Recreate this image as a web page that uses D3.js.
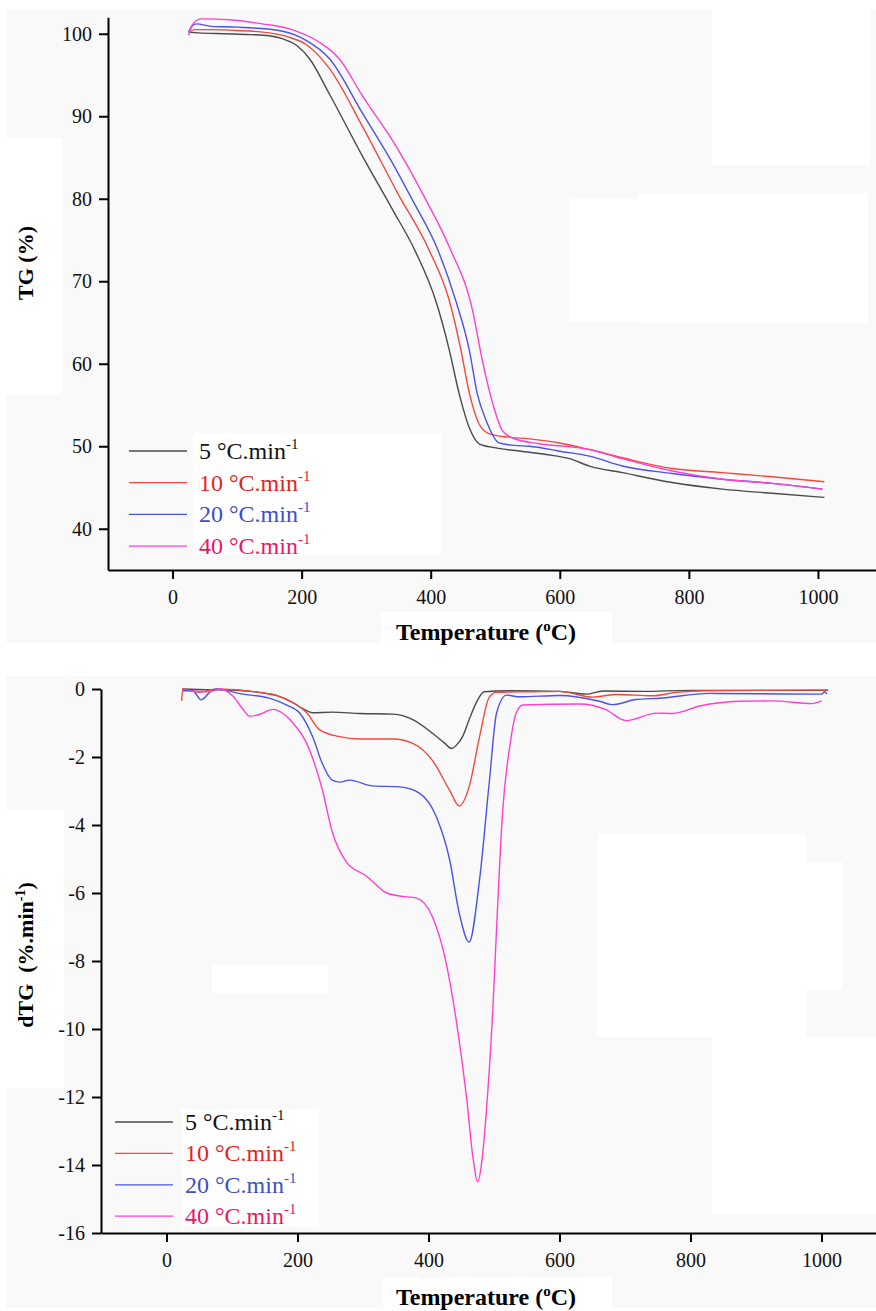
<!DOCTYPE html>
<html>
<head>
<meta charset="utf-8">
<script src="https://cdn.jsdelivr.net/npm/d3@7"></script>
<style>
  body { margin: 0; background: #fff; }
  text { font-family: "Liberation Serif", "Times New Roman", serif; }
</style>
</head>
<body>
<script>
// heating rates and their colours
var rates = ["5", "10", "20", "40"];
var lineColors = ["#4a4a4a", "#f5473c", "#4a52ea", "#ff3fd0"];
var textColors = ["#111111", "#e5231d", "#3d4fc6", "#ee1662"];

// TG curves: [temperature, mass %]
var tg5 = [[25,100.2],[40,100.1],[80,100],[120,99.9],[150,99.75],[170,99.4],[192,98.6],[212,97],[243,92.7],[294,85.2],[340,78.8],[377,73.5],[408,67.6],[429,61.6],[444,56.4],[460,52.2],[475,50.3],[501,49.8],[540,49.4],[579,49.0],[615,48.5],[646,47.6],[697,46.8],[774,45.6],[852,44.8],[929,44.3],[1010,43.8]];
var tg10 = [[25,100.2],[35,100.5],[60,100.5],[100,100.4],[150,100.1],[180,99.6],[207,98.7],[243,95.8],[294,88.8],[350,80.5],[398,73.7],[429,67.6],[447,61.6],[460,56.4],[475,52.7],[491,51.5],[520,51.1],[553,50.9],[600,50.4],[635,49.8],[697,48.6],[774,47.3],[852,46.8],[929,46.3],[1010,45.7]];
var tg20 = [[25,100.2],[30,100.9],[37,101.2],[60,100.9],[100,100.8],[165,100.4],[207,99.2],[243,97],[294,90.4],[346,83.6],[372,79.8],[410,74.0],[439,67.6],[460,61.6],[472,56.4],[486,53.1],[506,50.4],[530,50.1],[553,50.0],[600,49.4],[646,48.8],[697,47.6],[774,46.7],[852,46.0],[929,45.5],[1007,44.8]];
var tg40 = [[25,99.8],[30,101.0],[44,101.8],[88,101.7],[139,101.2],[181,100.6],[227,99],[258,97],[294,92.5],[346,86.4],[393,79.8],[428,74.3],[465,66.4],[480,60.4],[496,55.2],[511,51.9],[527,51.0],[568,50.3],[620,49.9],[646,49.6],[697,48.5],[774,47.0],[852,46.0],[929,45.5],[1007,44.8]];

// dTG curves: [temperature, %/min]
var dtg5 = [[24,0],[60,-0.02],[100,-0.03],[142,-0.1],[170,-0.2],[193,-0.4],[210,-0.6],[223,-0.7],[253,-0.68],[295,-0.72],[346,-0.74],[376,-0.9],[406,-1.3],[425,-1.6],[435,-1.75],[445,-1.6],[452,-1.4],[463,-0.85],[473,-0.4],[485,-0.08],[524,-0.05],[600,-0.07],[641,-0.15],[666,-0.06],[727,-0.07],[800,-0.04],[900,-0.04],[1010,-0.04]];
var dtg10 = [[23,-0.35],[25,0],[50,-0.1],[76,0],[142,-0.1],[193,-0.4],[214,-0.7],[234,-1.2],[264,-1.4],[295,-1.47],[346,-1.47],[376,-1.6],[406,-2.1],[432,-2.97],[447,-3.44],[462,-2.88],[478,-1.4],[493,-0.23],[504,-0.1],[560,-0.08],[600,-0.07],[651,-0.24],[687,-0.16],[742,-0.2],[778,-0.1],[824,-0.05],[900,-0.04],[1010,-0.03]];
var dtg20 = [[25,-0.05],[40,-0.05],[53,-0.32],[66,-0.1],[76,0],[116,-0.15],[157,-0.27],[183,-0.47],[203,-0.7],[223,-1.4],[238,-2.2],[253,-2.68],[265,-2.74],[279,-2.68],[315,-2.85],[356,-2.88],[386,-3.06],[412,-3.76],[432,-5.0],[447,-6.6],[462,-7.44],[478,-5.6],[493,-2.7],[504,-0.7],[519,-0.18],[539,-0.23],[600,-0.19],[661,-0.36],[681,-0.46],[717,-0.31],[753,-0.27],[829,-0.13],[900,-0.14],[1000,-0.15],[1005,-0.08],[1008,-0.15]];
var dtg40 = [[35,-0.05],[66,-0.08],[81,0],[101,-0.2],[115,-0.55],[127,-0.8],[142,-0.75],[162,-0.6],[180,-0.75],[193,-1.0],[214,-1.6],[238,-2.97],[253,-4.2],[275,-5.1],[305,-5.5],[336,-6.0],[356,-6.09],[382,-6.15],[406,-6.7],[427,-8.06],[442,-9.7],[458,-12.0],[468,-13.8],[475,-14.5],[482,-13.8],[488,-12.5],[498,-9.5],[505,-6.6],[513,-3.65],[524,-1.7],[534,-0.7],[544,-0.47],[631,-0.44],[670,-0.6],[702,-0.93],[748,-0.71],[773,-0.72],[814,-0.5],[875,-0.36],[925,-0.35],[985,-0.43],[1000,-0.35]];

// tick values
var xMajor = [0, 200, 400, 600, 800, 1000];
var xMinor = [-100, 100, 300, 500, 700, 900, 1100];
var tgMajor = [40, 50, 60, 70, 80, 90, 100];
var tgMinor = [45, 55, 65, 75, 85, 95];
var dtgMajor = [-16, -14, -12, -10, -8, -6, -4, -2, 0];
var dtgMinor = [-15, -13, -11, -9, -7, -5, -3, -1];

var svg = d3.select("body").append("svg")
    .attr("width", 876)
    .attr("height", 1311);

// light grey panel backgrounds plus the white blanks from the scan
svg.append("rect").attr("x", 6).attr("y", 10).attr("width", 870).attr("height", 633).attr("fill", "#f9f9f9");
svg.append("rect").attr("x", 6).attr("y", 676).attr("width", 870).attr("height", 632).attr("fill", "#f9f9f9");
var patches = [
  [712, 10, 158, 155], [570, 199, 67, 123], [637, 193, 231, 130], [0, 138, 62, 257],
  [193, 433, 248, 122], [381, 612, 231, 31],
  [0, 810, 64, 278], [212, 965, 116, 28], [597, 833, 209, 204], [806, 862, 37, 128],
  [712, 1037, 164, 178], [181, 1109, 138, 118], [383, 1277, 229, 31]
];
svg.selectAll(".patch").data(patches).enter().append("rect")
    .attr("class", "patch")
    .attr("x", function(d) { return d[0]; })
    .attr("y", function(d) { return d[1]; })
    .attr("width", function(d) { return d[2]; })
    .attr("height", function(d) { return d[3]; })
    .attr("fill", "#ffffff");

// plain hyphen minus, no thousands separator
function plain(d) { return String(d); }

function drawPanel(opt) {
  var x = d3.scaleLinear().domain([-100, 1100]).range(opt.xRange);
  var y = d3.scaleLinear().domain(opt.yDomain).range(opt.yRange);
  var g = svg.append("g");

  // curves
  var line = d3.line()
      .x(function(d) { return x(d[0]); })
      .y(function(d) { return y(d[1]); })
      .curve(d3.curveMonotoneX);
  opt.series.forEach(function(s, i) {
    g.append("path")
        .attr("d", line(s))
        .attr("fill", "none")
        .attr("stroke", lineColors[i])
        .attr("stroke-width", 1.4);
  });

  // axes
  var ax = g.append("g").attr("transform", "translate(0," + opt.yRange[0] + ")");
  ax.call(d3.axisBottom(x).tickValues(xMinor).tickSize(5).tickSizeOuter(0).tickFormat(""));
  ax.call(d3.axisBottom(x).tickValues(xMajor).tickSize(9).tickSizeOuter(0).tickPadding(11).tickFormat(plain));
  var ay = g.append("g").attr("transform", "translate(" + opt.xRange[0] + ",0)");
  ay.call(d3.axisLeft(y).tickValues(opt.yMinor).tickSize(5).tickSizeOuter(0).tickFormat(""));
  ay.call(d3.axisLeft(y).tickValues(opt.yMajor).tickSize(9).tickSizeOuter(0).tickPadding(7).tickFormat(plain));

  g.selectAll(".domain").attr("stroke", "#000").attr("stroke-width", 2);
  g.selectAll(".tick line").attr("stroke", "#000").attr("stroke-width", 2);
  g.selectAll(".tick text")
      .style("font-family", "'Liberation Serif', serif")
      .style("font-size", "20px")
      .attr("fill", "#111");

  // x title
  var xt = g.append("text")
      .attr("x", 486).attr("y", opt.xTitleY)
      .attr("text-anchor", "middle")
      .attr("font-size", 24).attr("font-weight", "bold");
  xt.append("tspan").text("Temperature (");
  xt.append("tspan").attr("font-size", 15).attr("dy", -9).text("o");
  xt.append("tspan").attr("dy", 9).text("C)");

  // y title
  var yt = g.append("text")
      .attr("transform", "translate(" + opt.yTitle[0] + "," + opt.yTitle[1] + ") rotate(-90)")
      .attr("text-anchor", "middle")
      .attr("font-size", 22).attr("font-weight", "bold");
  opt.yTitleParts.forEach(function(p) {
    var t = yt.append("tspan").text(p.t);
    if (p.sup) t.attr("font-size", 14).attr("dy", -8);
    if (p.down) t.attr("dy", 8);
  });

  // legend
  var lg = g.append("g");
  rates.forEach(function(r, i) {
    var ly = opt.legend.y + i * opt.legend.step;
    lg.append("line")
        .attr("x1", opt.legend.x).attr("x2", opt.legend.x + 58)
        .attr("y1", ly).attr("y2", ly)
        .attr("stroke", lineColors[i]).attr("stroke-width", 1.3);
    var t = lg.append("text")
        .attr("x", opt.legend.x + 70).attr("y", ly + 8)
        .attr("font-size", 24).attr("fill", textColors[i]);
    t.append("tspan").text(r + " \u00b0C.min");
    t.append("tspan").attr("font-size", 15).attr("dy", -10).text("-1");
  });
}

drawPanel({
  xRange: [108, 882.5],
  yDomain: [35, 102],
  yRange: [570, 17.25],
  yMajor: tgMajor,
  yMinor: tgMinor,
  series: [tg5, tg10, tg20, tg40],
  xTitleY: 640,
  yTitle: [33, 263],
  yTitleParts: [{t: "TG (%)"}],
  legend: {x: 129, y: 451, step: 31.7}
});

drawPanel({
  xRange: [101, 887],
  yDomain: [-16, 0],
  yRange: [1233, 689],
  yMajor: dtgMajor,
  yMinor: dtgMinor,
  series: [dtg5, dtg10, dtg20, dtg40],
  xTitleY: 1305,
  yTitle: [33, 955],
  yTitleParts: [{t: "dTG\u00a0\u00a0(%.min"}, {t: "-1", sup: true}, {t: ")", down: true}],
  legend: {x: 115, y: 1122, step: 31.4}
});
</script>
</body>
</html>
